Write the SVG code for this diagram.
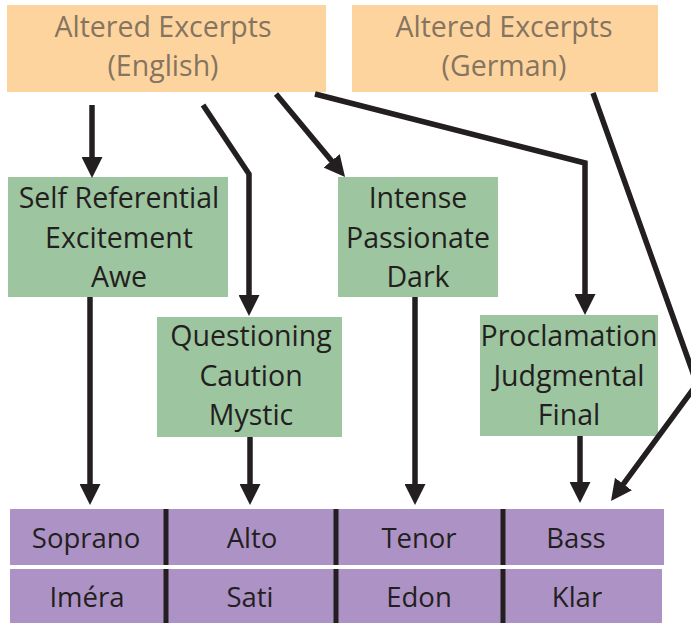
<svg xmlns="http://www.w3.org/2000/svg" width="691" height="623" viewBox="0 0 691 623">
<style>
.src rect{fill:#FDD49E}
.src text{fill:#857460;font-family:"Open Sans","Liberation Sans",sans-serif;font-size:28.5px;text-anchor:middle}
.mood rect{fill:#9DC59F}
.mood text{fill:#231F20;font-family:"Open Sans","Liberation Sans",sans-serif;font-size:28.5px;text-anchor:middle}
.voice rect{fill:#AD92C5}
.voice text{fill:#231F20;font-family:"Open Sans","Liberation Sans",sans-serif;font-size:27.5px;text-anchor:middle}
.div line{stroke:#231F20;stroke-width:5}
#connectors path{fill:none;stroke:#231F20;stroke-width:5.5;marker-end:url(#ah)}
</style>
<defs>
<marker id="ah" markerUnits="userSpaceOnUse" viewBox="0 0 21 21" markerWidth="21" markerHeight="21" refX="7" refY="10.5" orient="auto">
<path d="M0,0 L21,10.5 L0,21 z" fill="#231F20"/>
</marker>
</defs>
<rect width="691" height="623" fill="#fff"/>

<g id="english" class="src">
<rect x="7" y="5" width="319" height="87"/>
<text x="163" y="37">Altered Excerpts</text>
<text x="163" y="76">(English)</text>
</g>
<g id="german" class="src">
<rect x="352" y="5" width="306" height="87"/>
<text x="504" y="37">Altered Excerpts</text>
<text x="504" y="76">(German)</text>
</g>

<g id="selfref" class="mood">
<rect x="8" y="177" width="220" height="120"/>
<text x="119" y="208">Self Referential</text>
<text x="119" y="248">Excitement</text>
<text x="119" y="287">Awe</text>
</g>
<g id="intense" class="mood">
<rect x="338" y="177" width="160" height="120"/>
<text x="418" y="208">Intense</text>
<text x="418" y="248">Passionate</text>
<text x="418" y="287">Dark</text>
</g>
<g id="questioning" class="mood">
<rect x="157" y="317" width="185" height="120"/>
<text x="251" y="346">Questioning</text>
<text x="251" y="386">Caution</text>
<text x="251" y="425">Mystic</text>
</g>
<g id="proclamation" class="mood">
<rect x="480" y="315" width="178" height="121"/>
<text x="569" y="346">Proclamation</text>
<text x="569" y="386">Judgmental</text>
<text x="569" y="425">Final</text>
</g>

<g id="voices" class="voice">
<rect x="10" y="509" width="654" height="56"/>
<rect x="10" y="569" width="652" height="54"/>
<g class="div">
<line x1="166" y1="509" x2="166" y2="565"/>
<line x1="336" y1="509" x2="336" y2="565"/>
<line x1="503" y1="509" x2="503" y2="565"/>
<line x1="166" y1="569" x2="166" y2="623"/>
<line x1="336" y1="569" x2="336" y2="623"/>
<line x1="503" y1="569" x2="503" y2="623"/>
</g>
<g id="soprano"><text x="86" y="548">Soprano</text></g>
<g id="alto"><text x="252" y="548">Alto</text></g>
<g id="tenor"><text x="419" y="548">Tenor</text></g>
<g id="bass"><text x="576" y="548">Bass</text></g>
<g id="imera"><text x="87" y="607">Iméra</text></g>
<g id="sati"><text x="250" y="607">Sati</text></g>
<g id="edon"><text x="419" y="607">Edon</text></g>
<g id="klar"><text x="577" y="607">Klar</text></g>
</g>

<g id="connectors">
<path d="M92,105 L92,164"/>
<path d="M203,105 L249,174 L249,302"/>
<path d="M276,94 L336.1,166.2"/>
<path d="M315,94 L585,163 L585,301"/>
<path d="M593,93 L697,384 L619.3,489.7"/>
<path d="M90,297 L90,491"/>
<path d="M250,437 L250,491"/>
<path d="M415,297 L415,491"/>
<path d="M580,436 L580,489"/>
</g>
</svg>
